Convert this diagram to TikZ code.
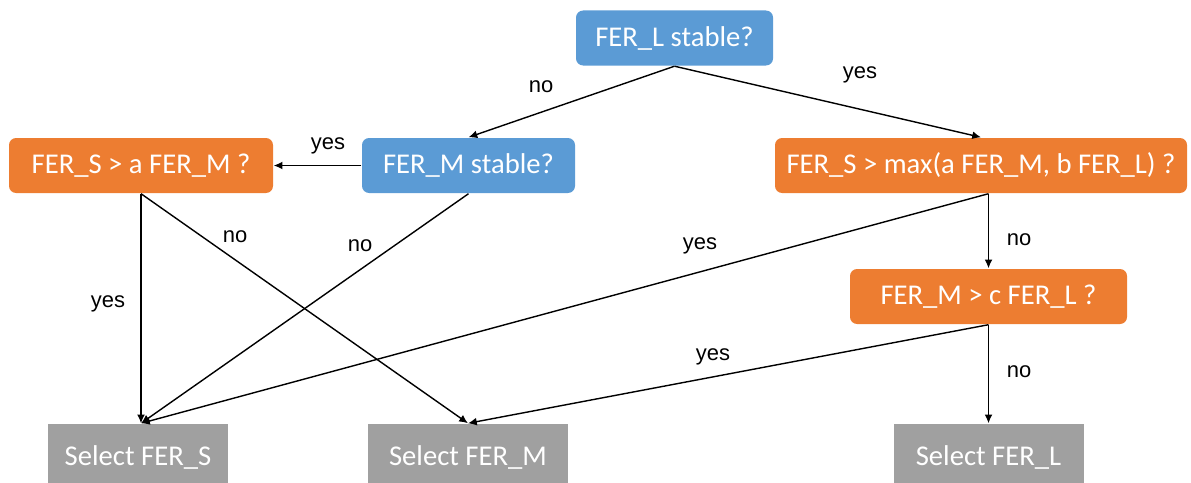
\documentclass[tikz,border=0pt]{standalone}
\usepackage{fontspec}
\setmainfont{Liberation Sans}
\newfontfamily\boxfont{Carlito}
\usetikzlibrary{arrows.meta}
\definecolor{stabblue}{HTML}{5B9BD5}
\definecolor{testorange}{HTML}{ED7D31}
\definecolor{selgray}{HTML}{A0A0A0}
\begin{document}
\begin{tikzpicture}[
		>={Latex[length=5pt,width=4.5pt]},
		every path/.style={line width=0.8pt},
		stabnode/.style={fill=stabblue, text=white, rounded corners=4pt, font=\boxfont\fontsize{16.3}{18}\selectfont, minimum height=1.1cm, inner sep=0pt},
		testnode/.style={fill=testorange, text=white, rounded corners=4pt, font=\boxfont\fontsize{16.3}{18}\selectfont, minimum height=1.1cm, inner sep=0pt},
		selnode/.style={fill=selgray, text=white, font=\boxfont\fontsize{16.3}{18}\selectfont, minimum height=1.32cm, inner sep=0pt},
		lbl/.style={font=\fontsize{12.5}{14}\selectfont}
	]
		\useasboundingbox (0,0) rectangle (23.82,-9.64);

		% Stabilitetstester
		\node[stabnode, minimum width=3.94cm] (lstab) at (13.49,-0.76) {FER\_L stable?};
		\node[stabnode, minimum width=4.26cm] (mstab) at (9.37,-3.31) {FER\_M stable?};

		% Sammenligninger
		\node[testnode, minimum width=5.28cm] (sa) at (2.82,-3.31) {FER\_S > a FER\_M ?};
		\node[testnode, minimum width=8.24cm] (smax) at (19.62,-3.31) {FER\_S > max(a FER\_M, b FER\_L) ?};
		\node[testnode, minimum width=5.54cm] (mc) at (19.77,-5.93) {FER\_M > c FER\_L ?};

		% Valg
		\node[selnode, minimum width=3.6cm] (selS) at (2.76,-9.14) {Select FER\_S};
		\node[selnode, minimum width=4.0cm] (selM) at (9.36,-9.14) {Select FER\_M};
		\node[selnode, minimum width=3.8cm] (selL) at (19.77,-9.14) {Select FER\_L};

		\coordinate (smaxb) at (mc.north |- smax.south);
		\coordinate (selSt) at (sa.south |- selS.north);

		% Piler
		\draw[->] (lstab.south) -- (mstab.north);
		\draw[->] (lstab.south) -- (smax.north);
		\draw[->] (mstab.west) -- (sa.east);
		\draw[->] (sa.south) -- (selSt);
		\draw[->] (sa.south) -- (selM.north);
		\draw[->] (mstab.south) -- (selSt);
		\draw[->] (smaxb) -- (selSt);
		\draw[->] (smaxb) -- (mc.north);
		\draw[->] (mc.south) -- (selM.north);
		\draw[->] (mc.south) -- (selL.north);

		% Etiketter
		\node[lbl] (l1) at (10.82,-1.74) {no};
		\node[lbl] (l2) at (17.2,-1.5) {yes};
		\node[lbl] (l3) at (6.56,-2.92) {yes};
		\node[lbl] (l4) at (2.16,-6.08) {yes};
		\node[lbl] (l5) at (4.7,-4.74) {no};
		\node[lbl] (l6) at (7.2,-4.92) {no};
		\node[lbl] (l7) at (14.0,-4.92) {yes};
		\node[lbl] (l8) at (20.38,-4.8) {no};
		\node[lbl] (l9) at (14.26,-7.14) {yes};
		\node[lbl] (l10) at (20.38,-7.44) {no};
	\end{tikzpicture}
\end{document}
